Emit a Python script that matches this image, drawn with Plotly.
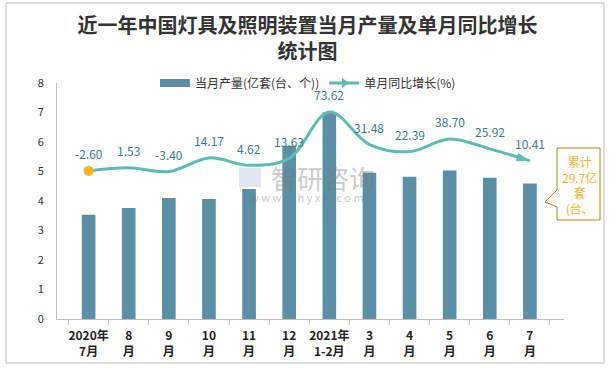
import math
import plotly.graph_objects as go

# ---- data ----
months = ["2020年<br>7月", "8<br>月", "9<br>月", "10<br>月", "11<br>月", "12<br>月",
          "2021年<br>1-2月", "3<br>月", "4<br>月", "5<br>月", "6<br>月", "7<br>月"]
production = [3.53, 3.76, 4.10, 4.07, 4.41, 5.87, 7.00, 4.96, 4.82, 5.03, 4.79, 4.59]
growth = [-2.60, 1.53, -3.40, 14.17, 4.62, 13.63, 73.62, 31.48, 22.39, 38.70, 25.92, 10.41]
growth_labels = ["%.2f" % v for v in growth]
y_ticks = [0, 1, 2, 3, 4, 5, 6, 7, 8]

W, H = 615, 368
L, R, T, B = 57, 51, 83, 49
PW, PH = W - L - R, H - T - B
Y2 = [-194, 111]


def px(x):
    return (x - L) / PW


def py(y):
    return (H - B - y) / PH


BAR = "#5b8fa5"
LINE = "#5bbdb4"
LABEL = "#3a7d8c"
FONT = "Noto Sans CJK SC"

fig = go.Figure()
fig.add_trace(go.Bar(
    x=months, y=production, name="当月产量(亿套(台、个))", showlegend=False,
    marker=dict(color=BAR, line=dict(width=0)), yaxis="y",
))
# legend entry for the bars (wide swatch)
fig.add_trace(go.Scatter(
    x=[None], y=[None], mode="lines", name="当月产量(亿套(台、个))",
    line=dict(color=BAR, width=8),
))

fig.add_trace(go.Scatter(
    x=months, y=growth, yaxis="y2", mode="lines", showlegend=False,
    line=dict(color=LINE, width=3, shape="spline", smoothing=1),
))
# start marker
fig.add_trace(go.Scatter(
    x=months[:1], y=growth[:1], yaxis="y2", mode="markers", showlegend=False,
    marker=dict(symbol="circle", size=10, color="#f5b324", line=dict(width=0)),
))
# end arrow, oriented along last segment (pixel space)
step = PW / len(months)
dy_px = (growth[-2] - growth[-1]) * PH / (Y2[1] - Y2[0])
ang = 90 + math.degrees(math.atan2(dy_px, step))
fig.add_trace(go.Scatter(
    x=months[-1:], y=growth[-1:], yaxis="y2", mode="markers", showlegend=False,
    marker=dict(symbol="arrow", size=14, color=LINE, angle=ang, line=dict(width=0)),
))
# legend entry for the line
fig.add_trace(go.Scatter(
    x=[None], y=[None], yaxis="y2", mode="lines+markers", name="单月同比增长(%)",
    line=dict(color=LINE, width=3),
    marker=dict(symbol="triangle-right", size=9, color=LINE),
))

annotations = []
for m, v, t in zip(months, growth, growth_labels):
    annotations.append(dict(x=m, y=v, xref="x", yref="y2", text=t, showarrow=False,
                            yshift=17, font=dict(family=FONT, size=12, color=LABEL)))

# watermark
annotations.append(dict(x=px(323), y=py(177), xref="paper", yref="paper", text="智研咨询",
                        xanchor="center", showarrow=False,
                        font=dict(family=FONT, size=26, color="rgba(120,120,120,0.40)")))
annotations.append(dict(x=px(307), y=py(197), xref="paper", yref="paper",
                        text="w w w . c h y x x . c o m", showarrow=False, xanchor="center",
                        font=dict(family=FONT, size=11, color="rgba(120,120,120,0.40)")))

# callout
annotations.append(dict(x=px(579), y=py(185), xref="paper", yref="paper", xanchor="center",
                        yanchor="middle",
                        text="累计<br>29.7亿<br>套<br>(台、", showarrow=False, align="center",
                        font=dict(family=FONT, size=12, color="#f2b233")))

shapes = [
    dict(type="rect", xref="paper", yref="paper", x0=px(6), x1=px(604), y0=py(3), y1=py(363),
         line=dict(color="#bfbfbf", width=1), layer="below"),
    dict(type="path", xref="paper", yref="paper",
         path="M %f,%f L %f,%f L %f,%f L %f,%f L %f,%f L %f,%f L %f,%f Z" % (
             px(557), py(148), px(600), py(148), px(600), py(220), px(557), py(220),
             px(557), py(207), px(545), py(202), px(557), py(190)),
         fillcolor="white", line=dict(color="#b8860b", width=1), layer="above"),
    # watermark logo block
    dict(type="rect", xref="paper", yref="paper", x0=px(239), x1=px(261), y0=py(168), y1=py(187),
         fillcolor="rgba(150,175,210,0.30)", line=dict(width=0)),
]

fig.update_layout(
    width=W, height=H,
    margin=dict(l=L, r=R, t=T, b=B, pad=0, autoexpand=False),
    paper_bgcolor="white", plot_bgcolor="white",
    font=dict(family=FONT, size=12, color="#333"),
    title=dict(text="近一年中国灯具及照明装置当月产量及单月同比增长<br>统计图",
               x=0.5, xanchor="center", y=1 - 33 / H, yanchor="middle", yref="container",
               font=dict(family=FONT, size=20, color="#333", weight=700)),
    bargap=0.66,
    showlegend=True,
    legend=dict(orientation="h", x=px(308), xanchor="center", y=py(83), yanchor="middle",
                font=dict(family=FONT, size=12, color="#333"), bgcolor="rgba(0,0,0,0)",
                itemwidth=30, tracegroupgap=0),
    xaxis=dict(type="category", showline=True, linecolor="#bfbfbf", linewidth=1,
               ticks="outside", tickson="boundaries", ticklen=5, tickcolor="#bfbfbf",
               showgrid=False, zeroline=False, tickangle=0, automargin=False,
               ticklabelstandoff=6,
               tickfont=dict(family=FONT, size=12, color="#222", weight=700)),
    yaxis=dict(range=[0, 8], tickvals=y_ticks, showline=True, linecolor="#bfbfbf",
               linewidth=1, showgrid=False, zeroline=False, ticks="", automargin=False,
               ticklabelstandoff=10, tickfont=dict(family=FONT, size=11, color="#333")),
    yaxis2=dict(range=Y2, overlaying="y", side="right", visible=False,
                showgrid=False, zeroline=False, automargin=False),
    annotations=annotations,
    shapes=shapes,
)

fig.write_html("out.html", config={"displayModeBar": False},
               post_script="document.body.style.margin='0px';")
